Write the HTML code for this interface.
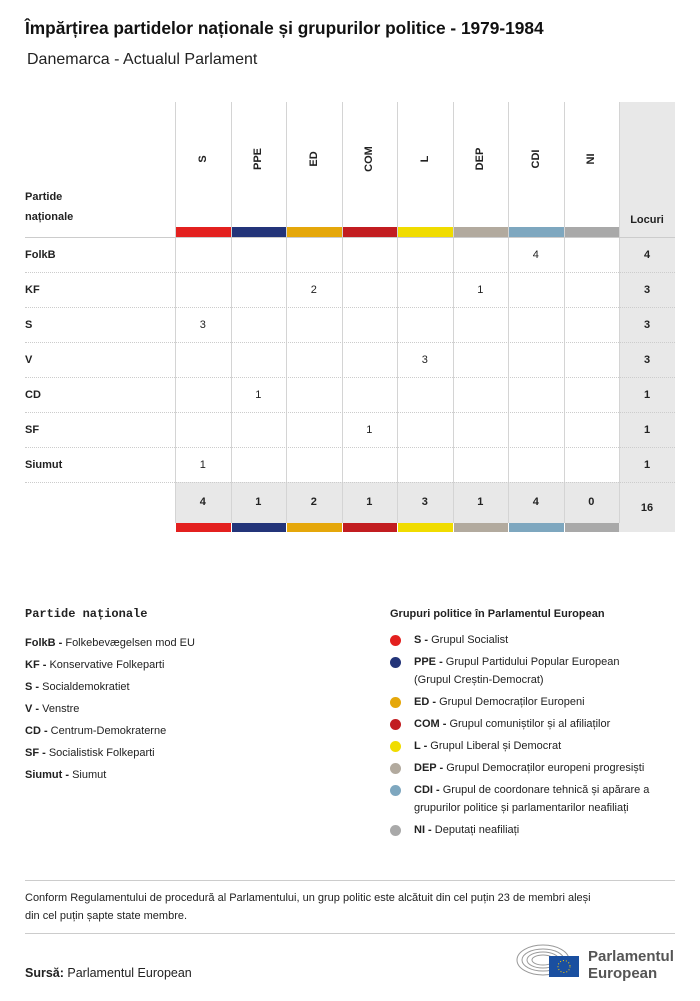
<!DOCTYPE html>
<html><head><meta charset="utf-8"><style>
body{margin:0;width:700px;height:1001px;background:#fff;font-family:"Liberation Sans",sans-serif;color:#222;position:relative;overflow:hidden}
.a{position:absolute}
.t{font-size:11px;white-space:nowrap}
b{font-weight:bold}
</style></head><body>
<div class="a" style="left:25px;top:18px;font-size:17.3px;font-weight:bold;color:#111;white-space:nowrap">Împărțirea partidelor naționale și grupurilor politice - 1979-1984</div>
<div class="a" style="left:27px;top:51px;font-size:16px;color:#222">Danemarca - Actualul Parlament</div>
<div id="tbl"></div>
<div class="a t" style="left:25px;top:607px;font-family:'Liberation Mono',monospace;font-weight:bold;font-size:12px">Partide naționale</div>
<div id="leg1"></div>
<div class="a t" style="left:390px;top:608px;font-weight:bold">Grupuri politice în Parlamentul European</div>
<div id="leg2"></div>
<div class="a" style="left:25px;top:880px;width:650px;height:1px;background:#ccc"></div>
<div class="a" style="left:25px;top:889px;white-space:nowrap;font-size:11px;line-height:18px">Conform Regulamentului de procedură al Parlamentului, un grup politic este alcătuit din cel puțin 23 de membri aleși<br>din cel puțin șapte state membre.</div>
<div class="a" style="left:25px;top:933px;width:650px;height:1px;background:#ccc"></div>
<div class="a" style="left:25px;top:966px;font-size:12.5px"><b>Sursă:</b> Parlamentul European</div>
<svg class="a" style="left:515px;top:942px" width="70" height="40">
<g fill="none" stroke="#999" stroke-width="1"><ellipse cx="28" cy="18" rx="26" ry="15"/><ellipse cx="28" cy="18" rx="21" ry="11"/><ellipse cx="28" cy="18" rx="16" ry="8"/><ellipse cx="28" cy="18" rx="11" ry="5"/></g>
<rect x="34" y="14" width="30" height="21" fill="#1a4fa0"/><circle cx="49" cy="24.5" r="6" fill="none" stroke="#fc0" stroke-dasharray="1 2"/></svg>
<div class="a" style="left:588px;top:948px;font-size:15px;font-weight:bold;color:#555;line-height:17px">Parlamentul<br>European</div>
<script>
const groups=['S','PPE','ED','COM','L','DEP','CDI','NI'];
const colors=['#e3201f','#233479','#e5a70a','#c21d20','#f0dc00','#b2aa9e','#7ea7bf','#a9a9a9'];
const parties=['FolkB','KF','S','V','CD','SF','Siumut'];
const seats=[[0,0,0,0,0,0,4,0],[0,0,2,0,0,1,0,0],[3,0,0,0,0,0,0,0],[0,0,0,0,3,0,0,0],[0,1,0,0,0,0,0,0],[0,0,0,1,0,0,0,0],[1,0,0,0,0,0,0,0]];
const partyNames=['Folkebevægelsen mod EU','Konservative Folkeparti','Socialdemokratiet','Venstre','Centrum-Demokraterne','Socialistisk Folkeparti','Siumut'];
const groupNames=['Grupul Socialist','Grupul Partidului Popular European (Grupul Creștin-Democrat)','Grupul Democraților Europeni','Grupul comuniștilor și al afiliaților','Grupul Liberal și Democrat','Grupul Democraților europeni progresiști','Grupul de coordonare tehnică și apărare a grupurilor politice și parlamentarilor neafiliați','Deputați neafiliați'];
const T=document.getElementById('tbl');
function mk(p,css,html){const d=document.createElement('div');d.className='a';d.style.cssText=css;if(html!==undefined)d.innerHTML=html;p.appendChild(d);return d;}
const x0=175,cw=55.5,lx=619,lw=56,hy=237,rh=35,yTop=102;
const rowsEnd=hy+rh*parties.length;
let e;
e=mk(T,`left:${lx}px;top:${yTop}px;width:${lw}px;height:${rowsEnd+50-yTop}px;background:#e8e8e8`);


e=mk(T,`left:${x0}px;top:${rowsEnd}px;width:${cw*groups.length}px;height:41px;background:#e8e8e8`);


for(let i=0;i<=groups.length;i++){e=mk(T,`left:${x0+i*cw}px;top:${yTop}px;width:1px;height:${rowsEnd+41-yTop}px;background:#d4d4d4`);

}
e=mk(T,`left:25px;top:${hy}px;width:650px;height:1px;background:#ccc`);


for(let r=1;r<=parties.length;r++){e=mk(T,`left:25px;top:${hy+r*rh}px;width:650px;height:0;border-top:1px dotted #ccc`);

}
e=mk(T,`left:25px;top:187px;font-size:11px;font-weight:bold;line-height:20px`,'Partide<br>naționale');


e=mk(T,`left:${lx}px;top:214px;width:${lw}px;text-align:center;font-size:11px;font-weight:bold`,'Locuri');


const totals=groups.map((g,j)=>seats.reduce((s,r)=>s+r[j],0));
groups.forEach((g,j)=>{
 const cx=x0+j*cw;
 e=mk(T,`left:${cx+cw/2-30}px;top:152px;width:60px;height:14px;line-height:14px;text-align:center;font-size:11px;font-weight:bold;transform:rotate(-90deg)`,g);
 
 
 e=mk(T,`left:${cx+1}px;top:${hy-10}px;width:${cw-1}px;height:10px;background:${colors[j]}`);
 
 
 e=mk(T,`left:${cx+1}px;top:${rowsEnd+41}px;width:${cw-1}px;height:9px;background:${colors[j]}`);
 
 
 e=mk(T,`left:${cx}px;top:${rowsEnd+14}px;width:${cw}px;text-align:center;font-size:11px;font-weight:bold`,totals[j]);
 
 
});
const grand=totals.reduce((a,b)=>a+b,0);
e=mk(T,`left:${lx}px;top:${rowsEnd+20}px;width:${lw}px;text-align:center;font-size:11px;font-weight:bold`,grand);


parties.forEach((p,i)=>{
 const y=hy+i*rh+12;
 e=mk(T,`left:25px;top:${y}px;font-size:11px;font-weight:bold`,p);
 
 
 seats[i].forEach((v,j)=>{if(v){e=mk(T,`left:${x0+j*cw}px;top:${y}px;width:${cw}px;text-align:center;font-size:11px`,v);
 
 }});
 e=mk(T,`left:${lx}px;top:${y}px;width:${lw}px;text-align:center;font-size:11px;font-weight:bold`,seats[i].reduce((a,b)=>a+b,0));
 
 
});
const L1=document.getElementById('leg1');
parties.forEach((p,i)=>{e=mk(L1,`left:25px;top:${633+i*22}px`,`<span class="t"><b>${p} - </b>${partyNames[i]}</span>`);

});
const L2=document.getElementById('leg2');
const gy=[631,653,693,715,737,759,781,821];
groups.forEach((g,i)=>{
 e=mk(L2,`left:390px;top:${gy[i]+4}px;width:11px;height:11px;border-radius:50%;background:${colors[i]}`);
 
 
 e=mk(L2,`left:414px;top:${gy[i]}px;width:240px;font-size:11px;line-height:18px`,`<b>${g} - </b>${groupNames[i]}`);
 
 
});
</script>
</body></html>
